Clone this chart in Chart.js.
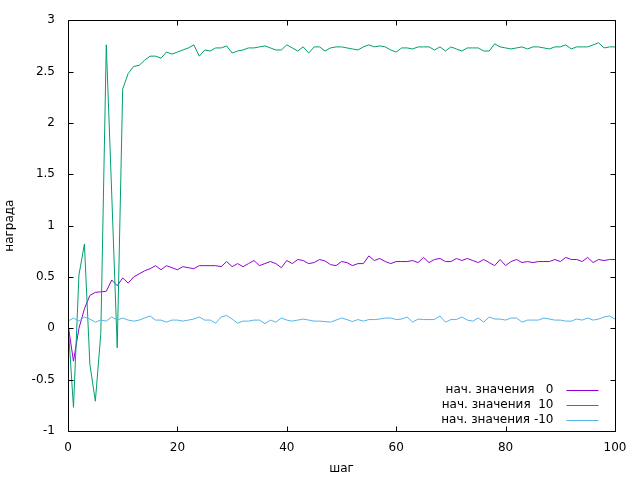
<!DOCTYPE html>
<html>
<head>
<meta charset="utf-8">
<script src="https://cdn.jsdelivr.net/npm/chart.js@4/dist/chart.umd.min.js"></script>
<style>
  body { margin: 0; background: #fff; }
</style>
</head>
<body>
<canvas id="myChart" width="640" height="480"></canvas>
<script>
// steps (x axis)
let steps = [0,1,2,3,4,5,6,7,8,9,10,11,12,13,14,15,16,17,18,19,20,21,22,23,24,25,26,27,28,29,30,
  31,32,33,34,35,36,37,38,39,40,41,42,43,44,45,46,47,48,49,50,51,52,53,54,55,56,57,58,59,60,
  61,62,63,64,65,66,67,68,69,70,71,72,73,74,75,76,77,78,79,80,81,82,83,84,85,86,87,88,89,90,
  91,92,93,94,95,96,97,98,99,100];

// reward, initial values 0
let rewardInit0 = [0.04,-0.32,0.0,0.19,0.32,0.35,0.355,0.36,0.47,0.415,0.49,0.44,0.50,0.53,0.56,0.58,0.61,0.57,0.61,0.59,
  0.57,0.60,0.59,0.58,0.61,0.61,0.61,0.61,0.60,0.65,0.60,0.63,0.60,0.63,0.66,0.61,0.63,0.65,0.63,0.59,
  0.66,0.63,0.67,0.66,0.63,0.64,0.67,0.655,0.62,0.61,0.65,0.64,0.61,0.63,0.63,0.705,0.66,0.68,0.65,0.63,
  0.65,0.65,0.65,0.66,0.64,0.69,0.64,0.67,0.68,0.65,0.65,0.68,0.66,0.68,0.66,0.64,0.67,0.64,0.61,0.67,
  0.61,0.65,0.67,0.64,0.65,0.64,0.65,0.65,0.65,0.67,0.65,0.69,0.67,0.67,0.65,0.69,0.64,0.67,0.66,0.67,0.67];

// reward, initial values 10
let rewardInit10 = [0.05,-0.77,0.52,0.82,-0.35,-0.71,-0.05,2.76,1.3,-0.19,2.33,2.48,2.55,2.56,2.61,2.65,2.65,2.63,2.69,2.67,
  2.69,2.71,2.73,2.76,2.65,2.71,2.70,2.73,2.73,2.75,2.68,2.70,2.71,2.73,2.73,2.74,2.75,2.73,2.71,2.71,
  2.76,2.73,2.70,2.74,2.68,2.74,2.74,2.70,2.73,2.74,2.74,2.73,2.72,2.71,2.74,2.76,2.74,2.75,2.74,2.71,
  2.69,2.73,2.73,2.72,2.74,2.74,2.74,2.71,2.74,2.70,2.74,2.72,2.70,2.73,2.73,2.73,2.70,2.70,2.77,2.74,
  2.73,2.72,2.73,2.74,2.72,2.74,2.74,2.73,2.72,2.74,2.74,2.76,2.72,2.74,2.74,2.74,2.76,2.78,2.73,2.74,2.74];

// reward, initial values -10
let rewardInitM10 = [0.07,0.10,0.07,0.11,0.09,0.06,0.08,0.07,0.11,0.08,0.10,0.08,0.07,0.08,0.10,0.12,0.08,0.08,0.06,0.08,
  0.08,0.07,0.08,0.09,0.11,0.08,0.08,0.05,0.11,0.125,0.09,0.05,0.07,0.07,0.08,0.08,0.045,0.08,0.06,0.10,
  0.08,0.07,0.08,0.09,0.08,0.07,0.07,0.065,0.06,0.08,0.10,0.085,0.065,0.085,0.07,0.085,0.085,0.09,0.10,0.10,
  0.085,0.09,0.11,0.06,0.09,0.085,0.085,0.085,0.12,0.06,0.085,0.085,0.11,0.08,0.07,0.10,0.06,0.11,0.09,0.09,
  0.08,0.10,0.10,0.06,0.08,0.08,0.08,0.10,0.09,0.08,0.08,0.07,0.07,0.09,0.08,0.10,0.08,0.09,0.11,0.12,0.09];

let seriesNames = ['нач. значения   0', 'нач. значения  10', 'нач. значения -10'];
let seriesColors = ['#9400d3', '#009e73', '#56b4e9'];
let xTicks = [0, 20, 40, 60, 80, 100];
let yTicks = [-1, -0.5, 0, 0.5, 1, 1.5, 2, 2.5, 3];

const FONT = "'DejaVu Sans', sans-serif";

function points(ys) {
  return steps.map((s, i) => ({ x: s, y: ys[i] }));
}

// gnuplot-like frame with inward ticks on all four sides + key in the lower right
const framePlugin = {
  id: 'frame',
  afterDraw(chart) {
    const ctx = chart.ctx;
    const a = chart.chartArea;
    const l = Math.round(a.left) + 0.5, r = Math.round(a.right) + 0.5;
    const t = Math.round(a.top) + 0.5, b = Math.round(a.bottom) + 0.5;
    const tl = 5;
    ctx.save();
    ctx.strokeStyle = '#000';
    ctx.lineWidth = 1;
    ctx.beginPath();
    ctx.rect(l, t, r - l, b - t);
    xTicks.forEach((v) => {
      const px = Math.round(chart.scales.x.getPixelForValue(v)) + 0.5;
      ctx.moveTo(px, b); ctx.lineTo(px, b - tl);
      ctx.moveTo(px, t); ctx.lineTo(px, t + tl);
    });
    yTicks.forEach((v) => {
      const py = Math.round(chart.scales.y.getPixelForValue(v)) + 0.5;
      ctx.moveTo(l, py); ctx.lineTo(l + tl, py);
      ctx.moveTo(r, py); ctx.lineTo(r - tl, py);
    });
    ctx.stroke();

    // key
    ctx.font = '12px ' + FONT;
    ctx.textAlign = 'right';
    ctx.textBaseline = 'middle';
    const textRight = r - 62;
    const lineStart = r - 49, lineEnd = r - 17;
    seriesNames.forEach((name, i) => {
      const y = Math.round(b - 42 + i * 15);
      ctx.fillStyle = '#000';
      ctx.fillText(name, textRight, y);
      ctx.beginPath();
      ctx.lineWidth = 1;
      ctx.strokeStyle = seriesColors[i];
      ctx.moveTo(lineStart, y + 0.5);
      ctx.lineTo(lineEnd, y + 0.5);
      ctx.stroke();
    });
    ctx.restore();
  }
};

let myChart = document.getElementById('myChart').getContext('2d');

let chart = new Chart(myChart, {
  type: 'line',
  data: {
    datasets: seriesNames.map((name, i) => ({
      label: name,
      data: points([rewardInit0, rewardInit10, rewardInitM10][i]),
      borderColor: seriesColors[i],
      borderWidth: 1,
      pointRadius: 0,
      tension: 0,
      fill: false,
      order: 3 - i
    }))
  },
  options: {
    responsive: false,
    animation: false,
    events: [],
    layout: { padding: { top: 17, right: 25, left: 0, bottom: 0 } },
    plugins: {
      legend: { display: false },
      tooltip: { enabled: false }
    },
    scales: {
      x: {
        type: 'linear',
        min: 0,
        max: 100,
        afterBuildTicks: (scale) => { scale.ticks = xTicks.map((v) => ({ value: v })); },
        afterFit: (scale) => { scale.height = 49; },
        grid: { display: false, drawTicks: false },
        border: { display: false },
        ticks: { color: '#000', padding: 10, font: { family: FONT, size: 12 }, maxRotation: 0 },
        title: { display: true, text: 'шаг', color: '#000', font: { family: FONT, size: 12 }, padding: { top: 0, bottom: 4 } }
      },
      y: {
        min: -1,
        max: 3,
        afterBuildTicks: (scale) => { scale.ticks = yTicks.map((v) => ({ value: v })); },
        afterFit: (scale) => { scale.width = 68; },
        grid: { display: false, drawTicks: false },
        border: { display: false },
        ticks: { color: '#000', padding: 13, font: { family: FONT, size: 12 }, callback: (v) => String(v) },
        title: { display: true, text: 'награда', color: '#000', font: { family: FONT, size: 12 }, padding: { top: 3, bottom: 0 } }
      }
    }
  },
  plugins: [framePlugin]
});
</script>
</body>
</html>
